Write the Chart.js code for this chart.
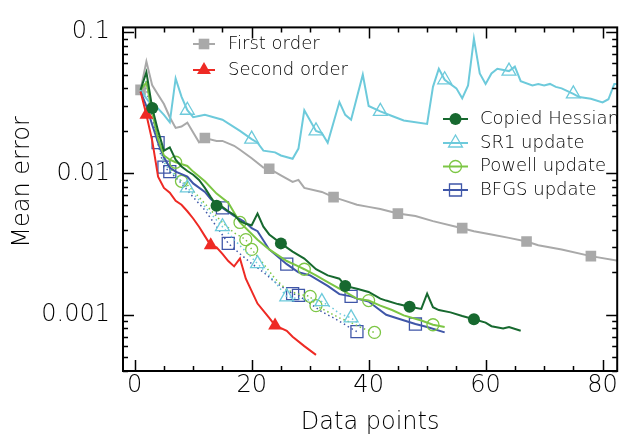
<!DOCTYPE html>
<html>
<head>
<meta charset="utf-8">
<script src="https://cdn.jsdelivr.net/npm/chart.js@4.4.1/dist/chart.umd.min.js"></script>
<style>
  html, body { margin: 0; padding: 0; background: #fff; }
  #wrap { width: 627px; height: 437px; }
</style>
</head>
<body>
<div id="wrap"><canvas id="errChart" width="627" height="437"></canvas></div>
<script>
// tick labels
var xTicks = [0, 20, 40, 60, 80];
var yTicks = [0.001, 0.01, 0.1];
var yTickLabels = ['0.001', '0.01', '0.1'];

// First order (grey, filled squares)
var firstX = [1,2,3,4,5,6,7,8,9,10,11,12,14,15,17,18,20,22,23,25,27,28,29,32,34,36,38,40,42,45,48,51,56,58,61,64,67,69,73,78,83];
var firstY = [0.039,0.062,0.042,0.036,0.031,0.025,0.021,0.0215,0.0229,0.0195,0.0166,0.0178,0.017,0.017,0.0157,0.0147,0.0128,0.011,0.0108,0.0097,0.0087,0.009,0.0079,0.0074,0.0068,0.0064,0.006,0.0058,0.0056,0.0052,0.005,0.0046,0.0041,0.0039,0.0037,0.0035,0.0033,0.0031,0.0029,0.0026,0.0024];
var firstMarks = [1,12,23,34,45,56,67,78];

// Second order (red, filled triangles)
var secondX = [1,2,3,4,5,6,7,8,9,10,11,12,13,14,15,16,17,18,19,21,23,24,26,27,29,31];
var secondY = [0.038,0.026,0.017,0.0095,0.0079,0.0073,0.0064,0.006,0.0054,0.0048,0.0042,0.0036,0.0031,0.003,0.0027,0.0024,0.0022,0.0025,0.0018,0.0012,0.00095,0.00084,0.00077,0.0007,0.0006,0.00052];
var secondMarks = [2,13,24];

// Copied Hessian (dark green, filled circles)
var hessX = [1,2,3,4,5,6,7,8,9,10,11,12,13,14,15,16,17,18,19,20,21,22,23,25,27,29,31,33,35,36,38,40,42,43,45,47,49,50,51,52,54,56,58,60,61,63,64,66];
var hessY = [0.039,0.052,0.029,0.02,0.0145,0.0153,0.0125,0.0112,0.0104,0.0098,0.009,0.0079,0.0068,0.0059,0.0058,0.0054,0.0051,0.0046,0.0044,0.0043,0.0052,0.0042,0.0037,0.0032,0.0028,0.0025,0.0021,0.0019,0.0018,0.0016,0.00153,0.00145,0.0013,0.00126,0.00119,0.00114,0.0011,0.00141,0.00113,0.00108,0.00104,0.00098,0.00093,0.00088,0.00083,0.0008,0.00082,0.00077];
var hessMarks = [3,14,25,36,47,58];

// SR1 update (cyan, open triangles)
var sr1X = [1,2,3,4,5,6,7,8,9,10,11,12,15,18,20,21,22,24,25,27,28,29,31,32,33,35,36,37,39,40,42,44,46,50,51,52,53,55,56,57,58,59,60,61,62,64,65,66,68,69,70,71,72,73,75,76,78,80,81,82,83];
var sr1Y = [0.039,0.034,0.030,0.0288,0.026,0.023,0.047,0.035,0.028,0.025,0.0255,0.026,0.024,0.020,0.0175,0.0165,0.0145,0.0141,0.0134,0.0127,0.015,0.028,0.020,0.0193,0.0165,0.032,0.026,0.024,0.050,0.030,0.0275,0.0255,0.0237,0.0224,0.041,0.055,0.046,0.040,0.034,0.042,0.090,0.051,0.043,0.051,0.055,0.053,0.057,0.045,0.042,0.043,0.042,0.043,0.041,0.040,0.0366,0.0347,0.0338,0.0318,0.0335,0.043,0.043];
var sr1Marks = [9,20,31,42,53,64,75];

// Powell update (light green, open circles)
var powX = [1,2,3,4,5,6,7,9,10,12,14,16,18,21,23,26,28,29,31,33,36,38,40,42,44,46,49,51,53];
var powY = [0.039,0.044,0.027,0.0175,0.0134,0.0125,0.012,0.0113,0.0103,0.0088,0.0072,0.0062,0.0045,0.0034,0.0029,0.0024,0.0022,0.0021,0.0019,0.0017,0.00145,0.0013,0.00126,0.00116,0.00108,0.00099,0.00091,0.00085,0.00082];
var powMarks = [7,18,29,40,51];

// BFGS update (blue, open squares)
var bfgsX = [1,2,3,4,5,6,7,9,10,12,13,15,17,19,20,21,23,26,28,30,33,35,37,38,40,43,45,48,50,53];
var bfgsY = [0.038,0.03,0.022,0.0165,0.013,0.011,0.0103,0.0095,0.0085,0.0074,0.0066,0.0057,0.005,0.0045,0.0041,0.0039,0.0029,0.00228,0.002,0.0019,0.0016,0.0014,0.00135,0.0013,0.00124,0.001,0.00094,0.00086,0.00082,0.00075];
var bfgsMarks = [4,15,26,37,48];

// dotted runs of the three updates
var sr1bX = [1,2,3,4,5,6,8,9,11,13,15,17,19,21,23,24,26,28,30,32,34,35,37,39];
var sr1bY = [0.039,0.045,0.027,0.016,0.012,0.0105,0.0088,0.0079,0.0065,0.0052,0.0042,0.0034,0.0028,0.0023,0.0019,0.0017,0.00134,0.0013,0.00127,0.00124,0.0011,0.00102,0.00095,0.00082];
var sr1bMarks = [9,15,21,26,32,37];

var powbX = [1,2,3,4,5,6,8,9,11,13,15,17,19,20,22,24,26,28,30,31,33,35,37,39,41];
var powbY = [0.039,0.045,0.027,0.017,0.0125,0.011,0.0088,0.0083,0.0068,0.0055,0.0045,0.0038,0.0034,0.0029,0.0023,0.0018,0.0015,0.0014,0.00135,0.00116,0.00105,0.00095,0.00088,0.0008,0.00075];
var powbMarks = [8,19,20,30,31,41];

var bfgsbX = [1,2,3,4,5,6,8,10,12,14,16,18,20,22,24,26,27,28,30,32,34,36,37,38];
var bfgsbY = [0.039,0.04,0.025,0.016,0.0111,0.0103,0.0085,0.0068,0.0055,0.0042,0.0032,0.0027,0.0023,0.002,0.0017,0.0015,0.00141,0.00137,0.0012,0.00105,0.00095,0.00085,0.0008,0.00076];
var bfgsbMarks = [5,6,16,27,28,38];

var GRAY = '#a9a9a9', RED = '#ee2a24', DKGREEN = '#17692f', CYAN = '#6dcadb', LTGREEN = '#7cc644', BLUE = '#3f56a8';
var FONT = "'DejaVu Sans', sans-serif";
var WEIGHT = 200;

function serie(xs, ys, marks, o) {
  return {
    label: o.label,
    data: xs.map(function (x, i) { return { x: x, y: ys[i] }; }),
    borderColor: o.color,
    borderWidth: o.width || 2,
    borderDash: o.dash || [],
    pointStyle: o.style,
    pointRadius: function (c) { return marks.indexOf(xs[c.dataIndex]) >= 0 ? o.r : 0; },
    pointBackgroundColor: o.fill ? o.color : 'rgba(0,0,0,0)',
    pointBorderColor: o.color,
    pointBorderWidth: o.fill ? 0 : 1.3,
    tension: 0
  };
}

// little marker shapes for the legend (same geometry as chart.js points)
function drawMark(ctx, style, x, y, r, color, fill) {
  ctx.beginPath();
  if (style === 'rect') {
    var s = r * Math.SQRT1_2;
    ctx.rect(x - s, y - s, 2 * s, 2 * s);
  } else if (style === 'triangle') {
    var a = 0;
    ctx.moveTo(x + Math.sin(a) * r, y - Math.cos(a) * r);
    a += 2 * Math.PI / 3;
    ctx.lineTo(x + Math.sin(a) * r, y - Math.cos(a) * r);
    a += 2 * Math.PI / 3;
    ctx.lineTo(x + Math.sin(a) * r, y - Math.cos(a) * r);
    ctx.closePath();
  } else {
    ctx.arc(x, y, r, 0, Math.PI * 2);
  }
  if (fill) { ctx.fillStyle = color; ctx.fill(); }
  else { ctx.strokeStyle = color; ctx.lineWidth = 1.3; ctx.stroke(); }
}

var legendRows = [
  { label: 'First order', color: GRAY, style: 'rect', r: 7.5, fill: true, x0: 193, x1: 215, tx: 228, y: 44 },
  { label: 'Second order', color: RED, style: 'triangle', r: 8, fill: true, x0: 193, x1: 215, tx: 228, y: 70 },
  { label: 'Copied Hessian', color: DKGREEN, style: 'circle', r: 6, fill: true, x0: 443, x1: 468, tx: 480, y: 119 },
  { label: 'SR1 update', color: CYAN, style: 'triangle', r: 8, fill: false, x0: 443, x1: 468, tx: 480, y: 143 },
  { label: 'Powell update', color: LTGREEN, style: 'circle', r: 6, fill: false, x0: 443, x1: 468, tx: 480, y: 166.5 },
  { label: 'BFGS update', color: BLUE, style: 'rect', r: 8.5, fill: false, x0: 443, x1: 468, tx: 480, y: 190 }
];

// frame, inward ticks, y title and the two legends
var framePlugin = {
  id: 'framePlugin',
  afterDatasetsDraw: function (chart) {
    var ctx = chart.ctx, a = chart.chartArea, xs = chart.scales.x, ys = chart.scales.y;
    ctx.save();
    ctx.strokeStyle = '#000';
    ctx.lineWidth = 1.5;
    ctx.beginPath();
    for (var v = 0; v <= 80; v += 5) {
      var px = Math.round(xs.getPixelForValue(v)) + 0.5;
      var len = v % 20 === 0 ? 11 : 5;
      ctx.moveTo(px, a.bottom); ctx.lineTo(px, a.bottom - len);
      ctx.moveTo(px, a.top); ctx.lineTo(px, a.top + len);
    }
    [0.0001, 0.001, 0.01, 0.1].forEach(function (d) {
      for (var m = 1; m <= 9; m++) {
        var val = d * m;
        if (val < ys.min || val > ys.max) continue;
        var py = Math.round(ys.getPixelForValue(val)) + 0.5;
        var l = m === 1 ? 11 : 5;
        ctx.moveTo(a.left, py); ctx.lineTo(a.left + l, py);
        ctx.moveTo(a.right, py); ctx.lineTo(a.right - l, py);
      }
    });
    ctx.stroke();
    ctx.lineWidth = 2;
    ctx.strokeRect(a.left, a.top, a.right - a.left, a.bottom - a.top);
    ctx.restore();
  },
  afterDraw: function (chart) {
    var ctx = chart.ctx;
    ctx.save();
    ctx.fillStyle = '#000';
    ctx.font = WEIGHT + ' 24px ' + FONT;
    ctx.translate(22.5, 182);
    ctx.rotate(-Math.PI / 2);
    ctx.textAlign = 'center';
    ctx.textBaseline = 'middle';
    ctx.fillText('Mean error', 0, 0);
    ctx.restore();

    ctx.save();
    legendRows.forEach(function (row) {
      ctx.strokeStyle = row.color;
      ctx.lineWidth = 2;
      ctx.beginPath();
      ctx.moveTo(row.x0, row.y); ctx.lineTo(row.x1, row.y);
      ctx.stroke();
      drawMark(ctx, row.style, (row.x0 + row.x1) / 2, row.y, row.r, row.color, row.fill);
      ctx.fillStyle = '#000';
      ctx.font = WEIGHT + ' 18px ' + FONT;
      ctx.textAlign = 'left';
      ctx.textBaseline = 'middle';
      ctx.fillText(row.label, row.tx, row.y);
    });
    ctx.restore();
  }
};

var chart = new Chart(document.getElementById('errChart').getContext('2d'), {
  type: 'line',
  data: {
    datasets: [
      serie(hessX, hessY, hessMarks, { label: 'Copied Hessian', color: DKGREEN, style: 'circle', r: 6, fill: true }),
      serie(secondX, secondY, secondMarks, { label: 'Second order', color: RED, style: 'triangle', r: 8, fill: true }),
      serie(powX, powY, powMarks, { label: 'Powell update', color: LTGREEN, style: 'circle', r: 6 }),
      serie(bfgsX, bfgsY, bfgsMarks, { label: 'BFGS update', color: BLUE, style: 'rect', r: 8.5 }),
      serie(sr1X, sr1Y, sr1Marks, { label: 'SR1 update', color: CYAN, style: 'triangle', r: 8 }),
      serie(firstX, firstY, firstMarks, { label: 'First order', color: GRAY, style: 'rect', r: 7.5, fill: true }),
      serie(sr1bX, sr1bY, sr1bMarks, { label: 'SR1 (dotted)', color: CYAN, style: 'triangle', r: 8, width: 1.5, dash: [1.5, 3] }),
      serie(powbX, powbY, powbMarks, { label: 'Powell (dotted)', color: LTGREEN, style: 'circle', r: 6, width: 1.5, dash: [1.5, 3] }),
      serie(bfgsbX, bfgsbY, bfgsbMarks, { label: 'BFGS (dotted)', color: BLUE, style: 'rect', r: 8.5, width: 1.5, dash: [1.5, 3] })
    ]
  },
  options: {
    responsive: false,
    animation: false,
    devicePixelRatio: 1,
    layout: { padding: { top: 18, right: 2, left: 0, bottom: 0 } },
    plugins: { legend: { display: false }, tooltip: { enabled: false } },
    scales: {
      x: {
        type: 'linear',
        min: -2,
        max: 82.5,
        grid: { display: false, drawTicks: false },
        border: { display: false },
        afterBuildTicks: function (s) { s.ticks = xTicks.map(function (v) { return { value: v }; }); },
        afterFit: function (s) { s.height = 66; },
        ticks: {
          autoSkip: false,
          maxRotation: 0,
          padding: 0,
          color: '#000',
          font: { family: FONT, size: 24, weight: WEIGHT },
          callback: function (v) { return String(v); }
        },
        title: {
          display: true,
          text: 'Data points',
          color: '#000',
          font: { family: FONT, size: 24, weight: WEIGHT },
          padding: { top: 0, bottom: 0 }
        }
      },
      y: {
        type: 'logarithmic',
        min: 0.0004,
        max: 0.108,
        grid: { display: false, drawTicks: false },
        border: { display: false },
        afterBuildTicks: function (s) { s.ticks = yTicks.map(function (v) { return { value: v }; }); },
        afterFit: function (s) { s.width = 123; },
        ticks: {
          autoSkip: false,
          padding: 13,
          color: '#000',
          font: { family: FONT, size: 24, weight: WEIGHT },
          callback: function (v) { var i = yTicks.indexOf(v); return i >= 0 ? yTickLabels[i] : ''; }
        }
      }
    }
  },
  plugins: [framePlugin]
});
</script>
</body>
</html>
